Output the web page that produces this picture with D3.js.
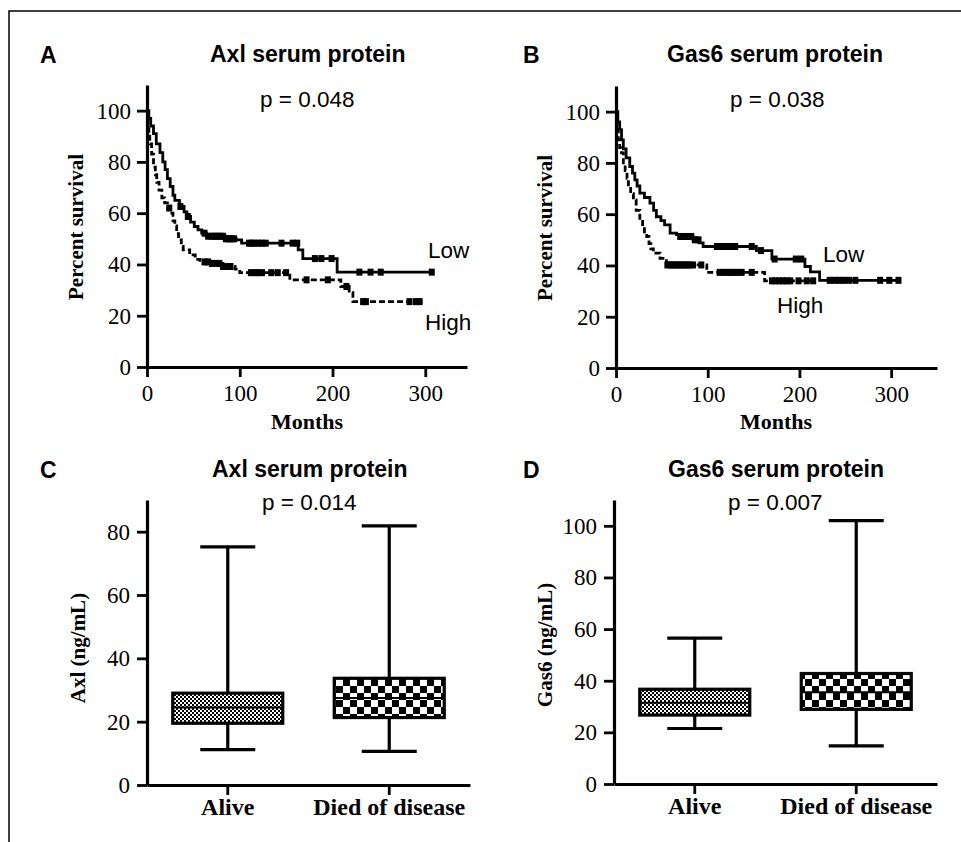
<!DOCTYPE html>
<html>
<head>
<meta charset="utf-8">
<script src="https://cdn.jsdelivr.net/npm/d3@7/dist/d3.min.js"></script>
<style>body{margin:0;background:#fff}</style>
</head>
<body>
<div id="chart"></div>
<script>
let WIDTH = 961
let HEIGHT = 842

// Kaplan-Meier steps: [month, percent surviving after that month]
let axlLowSteps = [[0,100],[2,97],[4,94],[7,91],[10,87],[14,83.6],[17,80],[19.5,77],[22,73.5],[25,70.4],[28,67],[30,65],[35,62.6],[40,60.5],[43,58.7],[47,56.5],[51,54.8],[55,53.5],[59,52.2],[64,51],[85,50],[96,49.6],[102,48.3],[163,45.7],[168,42.3],[205,37]]
let axlLowCensor = [36,44,62,66,70,73,76,79,82,85,88,91,94,110,113,116,120,124,128,145,157,162,181,188,199,229,241,252,307]
let axlHighSteps = [[0,100],[1,93],[2,90],[3,87],[5,83],[7,78],[9,75],[10.5,72],[13,69],[16,66],[19,64],[22,62],[25,60],[28,57],[30,55],[32,52],[34,49.6],[37,47],[39,45.7],[46,43.7],[52,42],[57,41],[67,40.4],[82,39.2],[95,38.2],[100,36.8],[154,34],[209,31.4],[218,29],[222,25.5]]
let axlHighCensor = [24,62,66,70,74,78,82,86,90,112,116,120,124,134,141,150,172,195,215,233,236,283,290,294]

let gasLowSteps = [[0,100],[2,96],[4,93],[6,89],[8,85.5],[11,82],[15,78.6],[18,76],[20.5,73.4],[23,71],[26,68.2],[31,66.5],[37,64.3],[41,61.5],[44,59],[49,57.5],[53,55.8],[59,52.6],[66,52],[70,51.3],[84,50],[91,48.8],[95,47.4],[153,45.8],[170,42.5],[206,39.6],[212,37.5],[222,34.2]]
let gasLowCensor = [70,73,76,79,82,86,90,110,114,118,122,126,130,148,158,173,196,202,233,238,243,248,254,261,288,298,308]
let gasHighSteps = [[0,100],[1,93],[2.5,89],[4,86],[6,83.9],[8,80],[10,77],[12,74],[13.5,70.8],[16,68],[19,65.6],[22,61.5],[26,57.8],[29,55],[31,52.5],[33.5,51.3],[36,48.5],[38,46.5],[40.7,44.8],[48,42.8],[55,40.2],[99,37.3],[162,34]]
let gasHighCensor = [56,59,62,65,68,71,74,77,80,84,93,113,117,121,125,129,133,137,148,170,174,178,182,186,190,199,208,215]

let monthTicks = [0, 100, 200, 300]
let survivalTicks = [0, 20, 40, 60, 80, 100]

// box plots: [min, q1, median, q3, max]
let groups = ['Alive', 'Died of disease']
let axlBox = [[11.2, 19.5, 24.5, 29, 75.2], [10.6, 21.3, 27.5, 33.7, 81.8]]
let gasBox = [[21.5, 26.7, 31.5, 36.7, 56.5], [14.8, 28.9, 35.5, 42.8, 102]]
let axlTicks = [0, 20, 40, 60, 80]
let gasTicks = [0, 20, 40, 60, 80, 100]

let SERIF = '"Liberation Serif", "Times New Roman", serif'
let SANS = '"Liberation Sans", Arial, Helvetica, sans-serif'

let svg = d3.select('#chart')
    .append('svg')
    .attr('width', WIDTH)
    .attr('height', HEIGHT)
svg.append('rect').attr('width', WIDTH).attr('height', HEIGHT).attr('fill', '#fff')

// frame around the figure
svg.append('path')
    .attr('d', 'M9,842V11H961')
    .attr('fill', 'none')
    .attr('stroke', '#000')
    .attr('stroke-width', 1.5)

let defs = svg.append('defs')
let fine = defs.append('pattern').attr('id', 'fine')
    .attr('patternUnits', 'userSpaceOnUse').attr('width', 4).attr('height', 4)
fine.append('rect').attr('width', 4).attr('height', 4).attr('fill', '#fff')
fine.append('rect').attr('width', 2).attr('height', 2).attr('fill', '#000')
fine.append('rect').attr('x', 2).attr('y', 2).attr('width', 2).attr('height', 2).attr('fill', '#000')
let coarse = defs.append('pattern').attr('id', 'coarse')
    .attr('patternUnits', 'userSpaceOnUse').attr('width', 14).attr('height', 14)
coarse.append('rect').attr('width', 14).attr('height', 14).attr('fill', '#fff')
coarse.append('rect').attr('width', 7).attr('height', 7).attr('fill', '#000')
coarse.append('rect').attr('x', 7).attr('y', 7).attr('width', 7).attr('height', 7).attr('fill', '#000')

let styleAxis = function(g, size) {
    g.attr('font-family', null).attr('font-size', null)
    g.select('.domain').attr('stroke-width', 3.2)
    g.selectAll('.tick line').attr('stroke-width', 2.8)
    g.selectAll('.tick text')
        .attr('font-family', SERIF)
        .attr('font-size', size)
        .attr('fill', '#000')
}

let addText = function(txt, x, y, opts) {
    let t = svg.append('text')
        .attr('x', x).attr('y', y)
        .attr('font-family', opts.family || SANS)
        .attr('font-size', opts.size || 22)
        .attr('font-weight', opts.bold ? 'bold' : 'normal')
        .attr('text-anchor', opts.anchor || 'start')
        .attr('fill', '#000')
        .text(txt)
    return t
}

let yLabel = function(txt, x, y) {
    svg.append('text')
        .attr('transform', `translate(${x},${y}) rotate(-90)`)
        .attr('font-family', SERIF)
        .attr('font-size', 21)
        .attr('font-weight', 'bold')
        .attr('text-anchor', 'middle')
        .text(txt)
}

let survAt = function(steps, t) {
    let s = steps[0][1]
    steps.forEach(d => { if (d[0] <= t) s = d[1] })
    return s
}

let drawKM = function(p) {
    let x = d3.scaleLinear().domain([0, p.xmax]).range([p.left, p.right])
    let y = d3.scaleLinear().domain([0, 110]).range([p.bottom, p.top])
    let line = d3.line().x(d => x(d[0])).y(d => y(d[1])).curve(d3.curveStepAfter)

    let series = [
        {steps: p.low, censor: p.lowC, dash: null},
        {steps: p.high, censor: p.highC, dash: '6,3'}
    ]
    series.forEach(s => {
        let end = d3.max(s.censor)
        let pts = s.steps.concat([[end, s.steps[s.steps.length - 1][1]]])
        svg.append('path')
            .attr('d', line(pts))
            .attr('fill', 'none')
            .attr('stroke', '#000')
            .attr('stroke-width', 2.8)
            .attr('stroke-dasharray', s.dash)
        svg.append('g').selectAll('rect')
            .data(s.censor)
            .join('rect')
            .attr('x', d => x(d) - 3)
            .attr('y', d => y(survAt(s.steps, d)) - 3.5)
            .attr('width', 6)
            .attr('height', 7)
            .attr('fill', '#000')
    })

    let gx = svg.append('g').attr('transform', `translate(0,${p.bottom})`)
        .call(d3.axisBottom(x).tickValues(monthTicks).tickSize(10).tickSizeOuter(0).tickPadding(8))
    styleAxis(gx, 23)
    let gy = svg.append('g').attr('transform', `translate(${p.left},0)`)
        .call(d3.axisLeft(y).tickValues(survivalTicks).tickSize(10).tickSizeOuter(0).tickPadding(6))
    styleAxis(gy, 23)
}

let drawBox = function(p) {
    let x = d3.scaleBand().domain(groups).range([p.left, p.right])
    let y = d3.scaleLinear().domain([0, p.ymax]).range([p.bottom, p.top])
    let bw = 110
    p.data.forEach((d, i) => {
        let cx = x(groups[i]) + x.bandwidth() / 2
        let g = svg.append('g')
        g.append('line').attr('x1', cx).attr('x2', cx).attr('y1', y(d[0])).attr('y2', y(d[4]))
            .attr('stroke', '#000').attr('stroke-width', 3.2)
        ;[d[0], d[4]].forEach(v => {
            g.append('line').attr('x1', cx - bw / 4).attr('x2', cx + bw / 4)
                .attr('y1', y(v)).attr('y2', y(v))
                .attr('stroke', '#000').attr('stroke-width', 3.2)
        })
        g.append('rect')
            .attr('x', cx - bw / 2).attr('width', bw)
            .attr('y', y(d[3])).attr('height', y(d[1]) - y(d[3]))
            .attr('fill', i === 0 ? 'url(#fine)' : 'url(#coarse)')
            .attr('stroke', '#000').attr('stroke-width', 3.2)
        g.append('line').attr('x1', cx - bw / 2).attr('x2', cx + bw / 2)
            .attr('y1', y(d[2])).attr('y2', y(d[2]))
            .attr('stroke', '#000').attr('stroke-width', 2)
    })
    let gx = svg.append('g').attr('transform', `translate(0,${p.bottom})`)
        .call(d3.axisBottom(x).tickSize(10).tickSizeOuter(0).tickPadding(3))
    styleAxis(gx, 24)
    gx.selectAll('.tick text').attr('font-weight', 'bold')
    let gy = svg.append('g').attr('transform', `translate(${p.left},0)`)
        .call(d3.axisLeft(y).tickValues(p.ticks).tickSize(10).tickSizeOuter(0).tickPadding(7))
    styleAxis(gy, 23)
}

// A
drawKM({left: 147, right: 467, bottom: 367, top: 85, xmax: 345,
    low: axlLowSteps, lowC: axlLowCensor, high: axlHighSteps, highC: axlHighCensor})
addText('A', 40, 63, {bold: true, size: 23})
addText('Axl serum protein', 210, 62, {bold: true, size: 23})
addText('p = 0.048', 260, 107, {size: 22.5})
addText('Low', 428, 258, {size: 22.5})
addText('High', 425, 330, {size: 22.5})
yLabel('Percent survival', 83, 227)
addText('Months', 307, 429, {family: SERIF, bold: true, size: 22, anchor: 'middle'})

// B
drawKM({left: 616, right: 937, bottom: 368, top: 86, xmax: 350,
    low: gasLowSteps, lowC: gasLowCensor, high: gasHighSteps, highC: gasHighCensor})
addText('B', 523, 63, {bold: true, size: 23})
addText('Gas6 serum protein', 667, 62, {bold: true, size: 23})
addText('p = 0.038', 730, 107, {size: 22.5})
addText('Low', 823, 262, {size: 22.5})
addText('High', 777, 313, {size: 22.5})
yLabel('Percent survival', 552, 228)
addText('Months', 776, 429, {family: SERIF, bold: true, size: 22, anchor: 'middle'})

// C
drawBox({left: 147, right: 470, bottom: 785, top: 500, ymax: 90, data: axlBox, ticks: axlTicks})
addText('C', 40, 478, {bold: true, size: 23})
addText('Axl serum protein', 212, 477, {bold: true, size: 23})
addText('p = 0.014', 262, 510, {size: 22.5})
yLabel('Axl (ng/mL)', 85, 648)

// D
drawBox({left: 614, right: 937, bottom: 784, top: 500, ymax: 110, data: gasBox, ticks: gasTicks})
addText('D', 523, 478, {bold: true, size: 23})
addText('Gas6 serum protein', 668, 477, {bold: true, size: 23})
addText('p = 0.007', 728, 510, {size: 22.5})
yLabel('Gas6 (ng/mL)', 552, 645)
</script>
</body>
</html>
